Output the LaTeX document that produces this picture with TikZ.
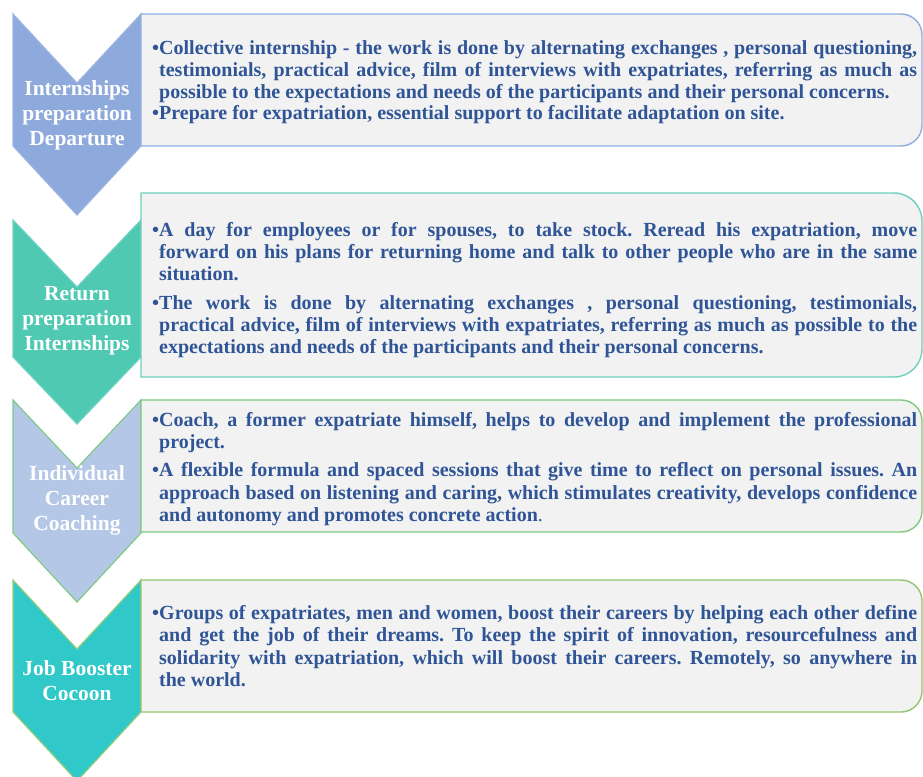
\documentclass[tikz,border=0pt]{standalone}
\usepackage{fontspec}
\setmainfont{Liberation Serif}

\definecolor{panelgray}{HTML}{F2F2F2}
\definecolor{bodyblue}{HTML}{2F5597}
\definecolor{chevA}{HTML}{8EA9DB}
\definecolor{chevAline}{HTML}{9DB5E3}
\definecolor{chevB}{HTML}{4FC9B2}
\definecolor{chevBline}{HTML}{6FD3C1}
\definecolor{chevC}{HTML}{B4C7E7}
\definecolor{chevCline}{HTML}{7FCB86}
\definecolor{chevD}{HTML}{30C8C8}
\definecolor{chevDline}{HTML}{96CF7C}
\definecolor{panelA}{HTML}{8FAFE1}
\definecolor{panelB}{HTML}{6DD0BC}
\definecolor{panelC}{HTML}{7ECB80}
\definecolor{panelD}{HTML}{92C56E}

\newlength\bulletw
% bulleted paragraph with hanging indent; optional argument: space above
\newcommand\bpar[1][0pt]{\par\vskip#1\relax
  \noindent\hangindent\bulletw\hangafter1\relax\makebox[\bulletw][l]{•}\ignorespaces}

% chevron: top, notch, straight bottom, tip, fill, border
\newcommand\chevshape[6]{%
  \draw[line width=1.2pt, line join=miter, fill=#5, draw=#6]
    (13,#1) -- (77,#2) -- (141,#1) -- (141,#3) -- (77,#4) -- (13,#3) -- cycle;}

% text panel with rounded right corners: top, bottom, radius, border
\newcommand\drawpanel[4]{%
  \draw[line width=1.4pt, draw=#4, fill=panelgray]
    (141,#1) -- ({922-#3},#1) arc[start angle=270, end angle=360, radius=#3]
    -- (922,{#2-#3}) arc[start angle=0, end angle=90, radius=#3]
    -- (141,#2) -- cycle;}

\begin{document}
\begin{tikzpicture}[x=1pt, y=-1pt,
  chevlabel/.style={text=white, inner sep=0pt, align=center,
    font=\bfseries\fontsize{21.5}{25}\selectfont},
  bodytext/.style={text=bodyblue, inner sep=0pt, anchor=west,
    text width=765pt, align=justify,
    font=\bfseries\fontsize{20}{22.3}\selectfont\frenchspacing
      \settowidth\bulletw{•}\tolerance10000\hyphenpenalty10000\pretolerance-1\relax}]

\fill[white] (0,0) rectangle (923,776);
\useasboundingbox (0,0) rectangle (923,776);

% chevrons
\chevshape{14}{83}{146}{215}{chevA}{chevAline}
\chevshape{220}{287}{357}{424}{chevB}{chevBline}
\chevshape{400}{468}{533}{602}{chevC}{chevCline}
\chevshape{580}{649}{712}{781}{chevD}{chevDline}

% panels
\drawpanel{14}{146}{21}{panelA}
\drawpanel{193}{377}{28}{panelB}
\drawpanel{400}{532}{21}{panelC}
\drawpanel{580}{712}{21}{panelD}

% chevron captions
\node[chevlabel] (capA) at (77,115) {Internships\\preparation\\Departure};
\node[chevlabel] (capB) at (77,321) {Return\\preparation\\Internships};
\node[chevlabel] (capC) at (77,500) {Individual\\Career\\Coaching};
\node[chevlabel] (capD) at (77,681) {Job Booster\\Cocoon};

% panel texts
\node[bodytext] (txtA) at (152,78) {%
\bpar Collective internship - the work is done by alternating exchanges , personal questioning,\linebreak
testimonials, practical advice, film of interviews with expatriates, referring as much as\linebreak
possible to the expectations and needs of the participants and their personal concerns.
\bpar[-1pt] Prepare for expatriation, essential support to facilitate adaptation on site.\par};

\node[bodytext] (txtB) at (152,286) {%
\bpar A day for employees or for spouses, to take stock. Reread his expatriation, move\linebreak
forward on his plans for returning home and talk to other people who are in the same\linebreak
situation.
\bpar[6pt] The work is done by alternating exchanges , personal questioning, testimonials,\linebreak
practical advice, film of interviews with expatriates, referring as much as possible to the\linebreak
expectations and needs of the participants and their personal concerns.\par};

\node[bodytext] (txtC) at (152,465) {%
\bpar Coach, a former expatriate himself, helps to develop and implement the professional\linebreak
project.
\bpar[6pt] A flexible formula and spaced sessions that give time to reflect on personal issues. An\linebreak
approach based on listening and caring, which stimulates creativity, develops confidence\linebreak
and autonomy and promotes concrete action{\mdseries.}\par};

\node[bodytext] (txtD) at (152,642) {%
\bpar Groups of expatriates, men and women, boost their careers by helping each other define\linebreak
and get the job of their dreams. To keep the spirit of innovation, resourcefulness and\linebreak
solidarity with expatriation, which will boost their careers. Remotely, so anywhere in\linebreak
the world.\par};

\end{tikzpicture}
\end{document}
